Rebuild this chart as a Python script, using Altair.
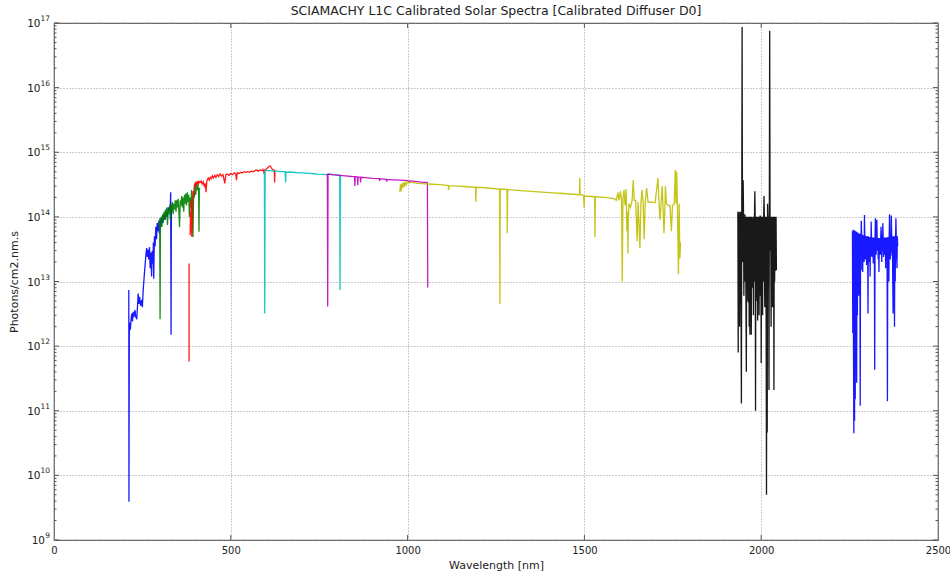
import altair as alt
import pandas as pd

# ---------------- data ----------------
ch1 = [(211.5, 7.4e12), (212, 3.9e9), (212.5, 1.0e11), (213, 1.5e12), (214, 2.3e12), (216, 1.8e12),
       (218, 2.6e12), (220, 3.2e12), (222, 2.4e12), (224, 3.4e12), (226, 2.8e12), (229, 3.6e12),
       (231, 2.9e12), (234, 2.6e12), (236, 4.0e12), (238, 6.5e12), (240, 4.5e12), (242, 5.8e12),
       (245, 4.2e12), (248, 5.2e12), (250, 4.0e12), (252, 7.0e12), (254, 1.0e13), (256, 1.4e13),
       (258, 1.9e13), (260, 2.6e13), (262, 3.3e13), (264, 2.4e13), (266, 3.1e13), (268, 2.2e13),
       (270, 3.4e13), (272, 1.6e13), (274, 2.8e13), (276, 1.2e13), (278, 3.0e13), (280, 1.9e13),
       (281, 4.0e13), (282, 1.1e13), (284, 5.0e13), (286, 3.5e13), (288, 7.0e13), (290, 4.5e13),
       (292, 8.0e13), (294, 6.0e13), (296, 8.5e13), (298, 5.5e13), (300, 9.5e13), (303, 7.0e13),
       (305, 1.0e14), (308, 8.0e13), (311, 1.1e14), (314, 9.0e13), (317, 1.2e14), (320, 1.0e14),
       (323, 1.4e14), (326, 1.2e14), (329, 1.6e14), (330, 2.4e14), (331, 1.5e12), (332, 1.4e14),
       (334, 1.5e14)]

ch2 = [(297, 9e13), (299, 6e13), (300, 2.6e12), (301, 8e13), (303, 1.0e14), (305, 7e13), (307, 1.1e14),
       (309, 8.5e13), (311, 1.2e14), (313, 9e13), (315, 1.3e14), (317, 1.0e14), (319, 1.4e14),
       (321, 7.5e13), (323, 1.3e14), (325, 1.1e14), (327, 1.5e14), (329, 9e13), (331, 1.6e14),
       (333, 1.2e14), (335, 1.7e14), (337, 1.1e14), (339, 1.6e14), (341, 1.3e14), (343, 1.8e14),
       (345, 1.2e14), (347, 1.8e14), (349, 1.4e14), (351, 1.9e14), (353, 1.3e14), (355, 7e13),
       (357, 1.8e14), (359, 1.5e14), (361, 2.1e14), (363, 1.4e14), (365, 2.0e14), (367, 1.2e14),
       (369, 2.2e14), (371, 1.6e14), (373, 2.3e14), (375, 1.5e14), (377, 2.4e14), (379, 1.7e14),
       (381, 2.2e14), (383, 1.0e14), (385, 2.0e14), (387, 1.4e14), (389, 2.6e14), (391, 1.2e14),
       (393, 4.9e13), (395, 2.5e14), (397, 2.0e14), (399, 3.0e14), (401, 2.2e14), (403, 3.4e14),
       (405, 2.6e14), (407, 3.2e14), (409, 2.4e14), (410, 5.9e13), (411, 2.8e14), (412, 2.6e14)]

ch3_a = [(382, 1.9e13), (382, 5.8e11)]
ch3_b = [(385, 5.2e13), (386, 1.2e14), (387, 8e13), (388, 1.8e14), (389, 6e13), (390, 4.9e13),
         (391, 1.5e14), (393, 2.5e14), (395, 2.2e14), (397, 3.1e14), (399, 3.3e14), (401, 3.0e14),
         (403, 3.5e14), (405, 3.2e14), (407, 3.6e14), (409, 3.3e14), (411, 3.5e14), (413, 3.4e14),
         (416, 3.6e14), (419, 3.2e14), (422, 3.5e14), (425, 3.0e14), (428, 3.3e14), (430, 2.4e14),
         (432, 3.5e14), (434, 3.8e14), (436, 4.0e14), (439, 3.7e14), (442, 4.1e14), (445, 3.9e14),
         (448, 4.3e14), (451, 4.0e14), (455, 4.4e14), (458, 4.1e14), (462, 4.5e14), (466, 4.2e14),
         (470, 4.6e14), (474, 4.3e14), (478, 4.5e14), (483, 3.3e14), (486, 4.5e14), (490, 4.6e14),
         (495, 4.4e14), (500, 4.7e14), (505, 4.5e14), (510, 4.8e14), (514, 4.6e14), (516, 3.7e14),
         (518, 4.8e14), (523, 4.7e14), (528, 4.9e14), (533, 4.8e14), (538, 5.0e14), (543, 4.9e14),
         (548, 5.0e14), (553, 4.9e14), (558, 5.1e14), (563, 5.0e14), (568, 5.2e14), (573, 5.3e14),
         (578, 5.1e14), (583, 5.3e14), (588, 5.2e14), (591, 5.4e14), (594, 4.8e14), (597, 5.4e14),
         (601, 5.5e14), (605, 5.8e14), (609, 6.1e14), (612, 6.1e14), (615, 5.7e14), (618, 5.4e14),
         (621, 5.3e14), (623, 5.3e14), (624, 3.4e14), (625, 5.2e14)]

ch4 = [(595, 5.0e14), (596, 3.2e12), (597, 5.1e14), (600, 5.2e14), (610, 5.2e14), (620, 5.1e14),
       (630, 5.1e14), (640, 5.0e14), (650, 5.0e14), (654, 5.0e14), (655, 3.4e14), (656, 4.9e14),
       (665, 4.95e14), (675, 4.9e14), (685, 4.85e14), (695, 4.8e14), (705, 4.8e14), (715, 4.7e14),
       (725, 4.7e14), (735, 4.65e14), (745, 4.6e14), (760, 4.55e14), (770, 4.5e14), (780, 4.6e14),
       (790, 4.5e14), (800, 4.45e14), (808, 4.4e14), (809, 7.4e12), (810, 4.4e14), (812, 4.4e14)]

ch5 = [(773, 4.6e14), (774, 4.1e12), (775, 4.6e14), (785, 4.5e14), (795, 4.45e14), (805, 4.4e14),
       (815, 4.35e14), (825, 4.3e14), (835, 4.25e14), (845, 4.2e14), (850, 4.2e14), (851, 3.0e14),
       (852, 4.2e14), (858, 4.15e14), (859, 3.1e14), (860, 4.15e14), (866, 4.1e14), (867, 3.4e14),
       (868, 4.1e14), (880, 4.05e14), (900, 3.95e14), (920, 3.9e14), (921, 3.6e14), (922, 3.9e14),
       (940, 3.8e14), (941, 3.5e14), (942, 3.8e14), (960, 3.75e14), (980, 3.7e14), (1000, 3.65e14),
       (1005, 3.45e14), (1006, 3.6e14), (1020, 3.55e14), (1040, 3.45e14), (1056, 3.4e14),
       (1057, 8.1e12)]

ch6 = [(978, 2.4e14), (980, 3.2e14), (982, 2.5e14), (984, 3.3e14), (986, 2.8e14), (988, 3.4e14),
       (990, 2.9e14), (993, 3.5e14), (996, 3.1e14), (1000, 3.5e14), (1005, 3.4e14), (1010, 3.45e14),
       (1020, 3.35e14), (1030, 3.3e14), (1050, 3.25e14), (1070, 3.2e14), (1090, 3.15e14),
       (1100, 3.12e14), (1115, 3.05e14), (1116, 2.6e14), (1117, 3.05e14), (1140, 3.0e14),
       (1160, 2.95e14), (1180, 2.9e14), (1192, 2.88e14), (1193, 1.7e14), (1194, 2.87e14),
       (1210, 2.85e14), (1240, 2.75e14), (1260, 2.7e14), (1261, 4.5e12), (1262, 2.7e14),
       (1281, 2.66e14), (1282, 5.6e13), (1283, 2.65e14), (1320, 2.55e14), (1360, 2.45e14),
       (1400, 2.38e14), (1440, 2.3e14), (1486, 2.2e14), (1487, 4.0e14), (1488, 2.2e14),
       (1498, 2.15e14), (1499, 1.4e14), (1500, 2.1e14), (1529, 2.05e14), (1530, 4.9e13),
       (1531, 2.05e14), (1560, 2.0e14), (1586, 1.9e14), (1590, 1.8e14), (1595, 2.4e14),
       (1598, 1.8e14), (1602, 2.5e14), (1605, 1.8e14), (1607, 1.0e13), (1609, 1.9e14),
       (1612, 2.6e14), (1615, 1.5e14), (1618, 2.7e14), (1620, 6e13), (1622, 1.2e14), (1623, 2.7e13),
       (1624, 8e13), (1626, 1.6e14), (1630, 1.4e14), (1635, 1.8e14), (1638, 3.7e14), (1641, 1.8e14),
       (1645, 1.8e14), (1649, 4.2e13), (1652, 1.7e14), (1657, 3.3e13), (1660, 1.7e14),
       (1663, 2.6e14), (1666, 1.7e14), (1669, 4.5e13), (1672, 1.7e14), (1676, 2.8e14),
       (1680, 1.7e14), (1690, 1.7e14), (1700, 1.65e14), (1708, 4.0e14), (1711, 1.65e14),
       (1714, 9e13), (1717, 1.65e14), (1720, 3.0e14), (1722, 1.6e14), (1725, 5.6e13),
       (1728, 1.6e14), (1729, 3.0e14), (1732, 1.6e14), (1738, 1.5e14), (1742, 1.5e14),
       (1746, 6e13), (1749, 1.5e14), (1754, 1.6e14), (1757, 5.3e14), (1759, 1.6e14), (1761, 5.0e14),
       (1763, 1.5e14), (1766, 1.3e13), (1768, 1.6e14), (1770, 2.3e13), (1772, 4.0e13)]

ch7 = [(1934, 1.2e14), (1935, 8e11), (1936, 1.1e14), (1937, 3e13), (1938, 1.2e14), (1939, 2e12),
       (1940, 1.1e14), (1941, 1.5e13), (1942, 1.2e14), (1943, 4e12), (1944, 1.3e11), (1945, 1.1e14),
       (1946, 8.7e16), (1947, 1.1e14), (1948, 2e13), (1949, 3.7e14), (1950, 1.1e14), (1951, 6e12),
       (1952, 1.0e14), (1953, 3e13), (1954, 1.1e14), (1955, 1e13), (1956, 1.0e14), (1957, 3e12),
       (1958, 4e11), (1959, 1.0e14), (1960, 5e12), (1961, 1.0e14), (1962, 2e13), (1963, 1.0e14),
       (1964, 4.7e12), (1965, 1.0e14), (1966, 2e12), (1967, 1.0e14), (1968, 1.5e12), (1969, 1.0e14),
       (1970, 2e13), (1971, 1.0e14), (1972, 1.5e12), (1973, 1.0e14), (1974, 8e12), (1975, 9e13),
       (1976, 1.5e13), (1977, 1.0e14), (1978, 3e12), (1979, 1.0e14), (1980, 1e13), (1981, 1.0e14),
       (1982, 2.5e14), (1983, 1.0e14), (1984, 1.0e11), (1985, 1.0e14), (1986, 5e12), (1987, 1.0e14),
       (1988, 2e13), (1989, 1.0e14), (1990, 2.5e12), (1991, 1.0e14), (1992, 1.5e13), (1993, 1.0e14),
       (1994, 3e12), (1995, 1.0e14), (1996, 1e13), (1997, 1.05e14), (1998, 6e12), (1999, 1.0e14),
       (2000, 5.5e11), (2001, 1.0e14), (2002, 2e13), (2003, 1.0e14), (2004, 3e12), (2005, 1.0e14),
       (2006, 1e13), (2007, 1.0e14), (2008, 2.1e14), (2009, 1.0e14), (2010, 4e12), (2011, 1.0e14),
       (2012, 1.5e13), (2013, 1.0e14), (2014, 2e12), (2015, 5e9), (2016, 1.0e14), (2017, 4.6e10),
       (2018, 1.6e14), (2019, 1.0e14), (2020, 8e12), (2021, 1.0e14), (2022, 2.1e11), (2023, 1.0e14),
       (2024, 7.6e16), (2025, 1.0e14), (2026, 3e13), (2027, 1.0e14), (2028, 2e12), (2029, 1.0e14),
       (2030, 1e13), (2031, 1.0e14), (2032, 4e12), (2033, 1.0e14), (2034, 2e13), (2035, 1.0e14),
       (2036, 2.1e11), (2037, 1.0e14), (2038, 1e13), (2039, 1.0e14), (2040, 1.5e13), (2041, 1.5e13),
       (2042, 1.0e14), (2043, 1.5e13)]

ch8 = [(2258, 6.0e13), (2259, 1.6e12), (2260, 6.3e13), (2261, 1.0e12), (2262, 4.5e10), (2263, 6.2e13),
       (2264, 7e10), (2265, 6.1e13), (2266, 1.5e11), (2267, 6.0e13), (2268, 8e11), (2269, 5.9e13),
       (2270, 2.7e11), (2271, 5.8e13), (2272, 3e12), (2273, 5.7e13), (2274, 1.5e13), (2275, 5.6e13),
       (2276, 6e12), (2277, 5.5e13), (2278, 2e13), (2279, 5.5e13), (2280, 1.2e11), (2281, 5.4e13),
       (2282, 3e13), (2283, 8.7e13), (2284, 5.3e13), (2285, 1.5e13), (2286, 5.3e13), (2287, 1.4e13),
       (2288, 5.2e13), (2289, 2.5e13), (2290, 5.2e13), (2291, 2e13), (2292, 1.07e14), (2293, 5.1e13),
       (2294, 2.2e13), (2295, 5.1e13), (2296, 3e13), (2297, 5.0e13), (2298, 1.8e13), (2299, 5.0e13),
       (2300, 2.5e13), (2301, 5.0e13), (2302, 3.2e12), (2303, 5.0e13), (2304, 2.8e13), (2305, 4.9e13),
       (2306, 2e13), (2307, 4.9e13), (2308, 1.2e13), (2309, 4.9e13), (2310, 2.5e13), (2311, 8.5e13),
       (2312, 4.8e13), (2313, 2.4e13), (2314, 4.8e13), (2315, 3e13), (2316, 4.8e13), (2317, 1.9e13),
       (2318, 4.8e13), (2319, 3e13), (2320, 4.8e13), (2321, 4.3e11), (2322, 4.8e13), (2323, 9.5e13),
       (2324, 4.7e13), (2325, 2.6e13), (2326, 4.7e13), (2327, 9e13), (2328, 4.7e13), (2329, 3e13),
       (2330, 4.7e13), (2331, 2.2e13), (2332, 4.7e13), (2333, 1.4e13), (2334, 4.7e13), (2335, 3e13),
       (2336, 4.7e13), (2337, 2.6e13), (2338, 4.7e13), (2339, 7e13), (2340, 4.7e13), (2341, 2e13),
       (2342, 4.7e13), (2343, 3e13), (2344, 8e13), (2345, 4.7e13), (2346, 2.4e13), (2347, 4.7e13),
       (2348, 3e13), (2349, 4.8e13), (2350, 2.6e13), (2351, 4.8e13), (2352, 1.6e13), (2353, 4.8e13),
       (2354, 2.2e13), (2355, 4.8e13), (2356, 3e13), (2357, 1.4e11), (2358, 4.9e13), (2359, 2.8e13),
       (2360, 4.9e13), (2361, 1e13), (2362, 4.9e13), (2363, 1.1e14), (2364, 4.9e13), (2365, 2.2e13),
       (2366, 5.0e13), (2367, 2.8e13), (2368, 1.05e14), (2369, 5.0e13), (2370, 2.5e13), (2371, 5.0e13),
       (2372, 1.1e13), (2373, 3.2e12), (2374, 5.0e13), (2375, 2.5e13), (2376, 5.0e13), (2377, 2e12),
       (2378, 5.0e13), (2379, 1e13), (2380, 5.0e13), (2381, 9.5e13), (2382, 5.0e13), (2383, 2.5e13),
       (2384, 1.6e13), (2385, 5.0e13), (2386, 3.5e13)]

channels = [
    ("ch1", "#0000ff", [ch1]),
    ("ch2", "#008000", [ch2]),
    ("ch3", "#ff0000", [ch3_a, ch3_b]),
    ("ch4", "#00bfbf", [ch4]),
    ("ch5", "#bf00bf", [ch5]),
    ("ch6", "#bfbf00", [ch6]),
    ("ch7", "#000000", [ch7]),
    ("ch8", "#0000ff", [ch8]),
]

x_major = [0, 500, 1000, 1500, 2000, 2500]
y_major = [1e9, 1e10, 1e11, 1e12, 1e13, 1e14, 1e15, 1e16, 1e17]
y_exp = ["9", "10", "11", "12", "13", "14", "15", "16", "17"]
y_minor = [m * d for d in y_major[:-1] for m in (2, 3, 4, 5, 6, 7, 8, 9)]

TITLE = "SCIAMACHY L1C Calibrated Solar Spectra [Calibrated Diffuser D0]"
XTITLE = "Wavelength [nm]"
YTITLE = "Photons/cm2.nm.s"

# ---------------- build table ----------------
rows = []
k = 0
for name, color, segs in channels:
    for si, seg in enumerate(segs):
        for w, v in seg:
            rows.append({"ch": name, "seg": f"{name}_{si}", "i": k, "wl": w, "val": v})
            k += 1
df = pd.DataFrame(rows)

W, H = 884, 517
FONT = "DejaVu Sans"
FRAME = "#555555"
TXT = "#222222"

X = alt.X("wl:Q", scale=alt.Scale(domain=[0, 2500], nice=False, zero=False),
          axis=alt.Axis(values=x_major, title=XTITLE, grid=True, ticks=False, domain=False,
                        labelFlush=False, labelOverlap=False, labelPadding=5, format="d",
                        labelFontSize=10, titleY=25, titleBaseline="middle"))
Y = alt.Y("val:Q", scale=alt.Scale(type="log", domain=[1e9, 1e17], nice=False),
          axis=alt.Axis(values=y_major, title=YTITLE, grid=True, ticks=False, domain=False,
                        labels=False, titleX=-40, titleBaseline="middle"))

layers = []
for name, color, segs in channels:
    layers.append(
        alt.Chart(df).transform_filter(alt.datum.ch == name)
        .mark_line(color=color, strokeWidth=1.3, opacity=0.9, clip=True)
        .encode(x=X, y=Y, detail="seg:N", order="i:Q")
    )

ymaj = pd.DataFrame({"val": y_major, "exp": y_exp, "base": ["10"] * len(y_major)})
ymin = pd.DataFrame({"val": y_minor})
xmaj = pd.DataFrame({"wl": x_major[1:-1]})

def yticks(data, length):
    return [
        alt.Chart(data).mark_rule(color=FRAME, strokeWidth=1).encode(y=Y, x=alt.value(0), x2=alt.value(length)),
        alt.Chart(data).mark_rule(color=FRAME, strokeWidth=1).encode(y=Y, x=alt.value(W - length), x2=alt.value(W)),
    ]

tick_layers = yticks(ymaj, 5) + yticks(ymin, 2.5) + [
    alt.Chart(xmaj).mark_rule(color=FRAME, strokeWidth=1).encode(x=X, y=alt.value(H - 5), y2=alt.value(H)),
    alt.Chart(xmaj).mark_rule(color=FRAME, strokeWidth=1).encode(x=X, y=alt.value(0), y2=alt.value(5)),
]

# y tick labels as "10" with a raised exponent
label_layers = [
    alt.Chart(ymaj).mark_text(align="right", baseline="middle", font=FONT, fontSize=7.5,
                              color=TXT, dy=-4, clip=False)
    .encode(y=Y, x=alt.value(-4), text="exp:N"),
    alt.Chart(ymaj.iloc[1:]).mark_text(align="right", baseline="middle", font=FONT, fontSize=10.5,
                                       color=TXT, dy=1, clip=False)
    .encode(y=Y, x=alt.value(-13.5), text="base:N"),
    alt.Chart(ymaj.iloc[:1]).mark_text(align="right", baseline="middle", font=FONT, fontSize=10.5,
                                       color=TXT, dy=1, clip=False)
    .encode(y=Y, x=alt.value(-9), text="base:N"),
]

chart = alt.layer(*layers, *tick_layers, *label_layers).properties(
    width=W, height=H,
    padding={"left": 54, "top": 23, "right": 12, "bottom": 32},
    autosize=alt.AutoSizeParams(type="none"),
    title=alt.TitleParams(TITLE, font=FONT, fontSize=12.5, fontWeight="normal", color=TXT,
                          anchor="middle", offset=6, dy=8),
).configure_view(stroke=FRAME, strokeWidth=1.2).configure_axis(
    labelFont=FONT, titleFont=FONT, labelFontSize=10.5, titleFontSize=11,
    labelColor=TXT, titleColor=TXT, titleFontWeight="normal",
    gridColor="#999999", gridDash=[1, 2], gridWidth=1,
)

chart.save("out.html", embed_options={"renderer": "svg", "actions": False})
